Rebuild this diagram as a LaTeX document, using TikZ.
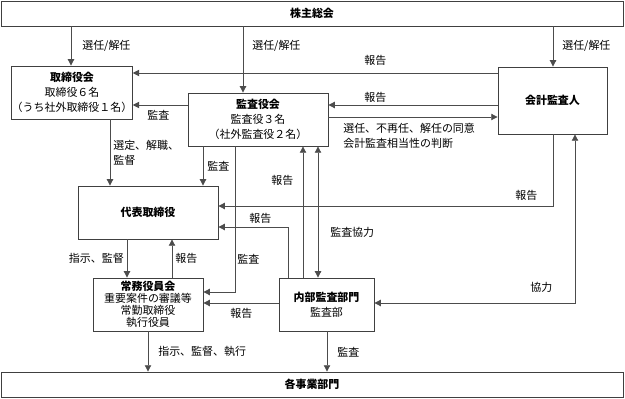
\documentclass[tikz,border=0pt]{standalone}
\usepackage{fontspec}
\setmainfont{Noto Sans CJK JP}
\usetikzlibrary{arrows.meta}

\begin{document}
\begin{tikzpicture}[
      x=0.025cm, y=-0.025cm,
      every node/.style = {inner sep=0pt, font=\fontsize{7.8}{10.7}\selectfont},
      box/.style = {shape=rectangle, draw=black!75, line width=0.6pt, align=center},
      lbl/.style = {anchor=west, align=left},
      arr/.style = {draw=black!70, line width=0.6pt, -{Triangle[length=4.5pt,width=4.5pt]}},
      dbl/.style = {draw=black!70, line width=0.6pt, {Triangle[length=4.5pt,width=4.5pt]}-{Triangle[length=4.5pt,width=4.5pt]}}
    ]
      \useasboundingbox (0,0) rectangle (625,399);
      % boxes
      \node[box, minimum width=622*0.025cm, minimum height=25*0.025cm] (gms) at (312,13.5) {\textbf{株主総会}};
      \node[box, minimum width=110*0.025cm, minimum height=53*0.025cm] (board) at (72,92.5)
        {\textbf{取締役会}\\取締役６名\\（うち社外取締役１名）};
      \node[box, minimum width=140*0.025cm, minimum height=53*0.025cm] (kansa) at (258,119.5)
        {\textbf{監査役会}\\監査役３名\\（社外監査役２名）};
      \node[box, minimum width=109*0.025cm, minimum height=67*0.025cm] (auditor) at (552.5,100.5) {\textbf{会計監査人}};
      \node[box, minimum width=140*0.025cm, minimum height=53*0.025cm] (rep) at (148,212.5) {\textbf{代表取締役}};
      \node[box, minimum width=110*0.025cm, minimum height=53*0.025cm, font=\fontsize{7.8}{8.6}\selectfont] (exec) at (148,304.5)
        {\textbf{常務役員会}\\重要案件の審議等\\常勤取締役\\執行役員};
      \node[box, minimum width=95*0.025cm, minimum height=53*0.025cm] (internal) at (326.5,304.5)
        {\textbf{内部監査部門}\\監査部};
      \node[box, minimum width=622*0.025cm, minimum height=25*0.025cm] (div) at (312,384.5) {\textbf{各事業部門}};

      % election
      \draw[arr] (71,0 |- gms.south) -- (71,0 |- board.north);
      \node[lbl] (l1) at (82,46) {選任/解任};
      \draw[arr] (243,0 |- gms.south) -- (243,0 |- kansa.north);
      \node[lbl] (l2) at (252,46) {選任/解任};
      \draw[arr] (553,0 |- gms.south) -- (553,0 |- auditor.north);
      \node[lbl] (l3) at (562,46) {選任/解任};

      % auditor, kansa, board
      \draw[arr] (0,73 -| auditor.west) -- (0,73 -| board.east);
      \node[lbl] (l4) at (364,60) {報告};
      \draw[arr] (0,105 -| kansa.west) -- (0,105 -| board.east);
      \node[lbl] (l5) at (147,115) {監査};
      \draw[arr] (0,105 -| auditor.west) -- (0,105 -| kansa.east);
      \node[lbl] (l6) at (364,97) {報告};
      \draw[arr] (0,117 -| kansa.east) -- (0,117 -| auditor.west);
      \node[lbl] (l7) at (343,135.5) {選任、不再任、解任の同意\\会計監査相当性の判断};

      % to rep
      \draw[arr] (110,0 |- board.south) -- (110,0 |- rep.north);
      \node[lbl] (l8) at (113,152.5) {選定、解職、\\監督};
      \draw[arr] (203,0 |- kansa.south) -- (203,0 |- rep.north);
      \node[lbl] (l9) at (207,166) {監査};
      \draw[arr] (553,0 |- auditor.south) -- (553,206) -- (0,206 -| rep.east);
      \node[lbl] (l10) at (515,195) {報告};
      \draw[arr] (288,0 |- internal.north) -- (288,227) -- (0,227 -| rep.east);
      \node[lbl] (l11) at (249,218) {報告};

      % kansa, internal, exec
      \draw[arr] (235,0 |- kansa.south) -- (235,292) -- (0,292 -| exec.east);
      \node[lbl] (l12) at (237,259) {監査};
      \draw[arr] (303,0 |- internal.north) -- (303,0 |- kansa.south);
      \node[lbl] (l13) at (271,180) {報告};
      \draw[dbl] (318,0 |- kansa.south) -- (318,0 |- internal.north);
      \node[lbl] (l14) at (330,232) {監査協力};
      \draw[arr] (0,303 -| internal.west) -- (0,303 -| exec.east);
      \node[lbl] (l15) at (230,313) {報告};
      \draw[dbl] (575,0 |- auditor.south) -- (575,303) -- (0,303 -| internal.east);
      \node[lbl] (l16) at (530,287) {協力};

      % rep and exec
      \draw[arr] (127,0 |- rep.south) -- (127,0 |- exec.north);
      \node[lbl, anchor=east] (l17) at (124,258) {指示、監督};
      \draw[arr] (172,0 |- exec.north) -- (172,0 |- rep.south);
      \node[lbl] (l18) at (175,258) {報告};

      % to div
      \draw[arr] (148,0 |- exec.south) -- (148,0 |- div.north);
      \node[lbl] (l19) at (158,351) {指示、監督、執行};
      \draw[arr] (327,0 |- internal.south) -- (327,0 |- div.north);
      \node[lbl] (l20) at (337,352) {監査};
    \end{tikzpicture}
\end{document}
